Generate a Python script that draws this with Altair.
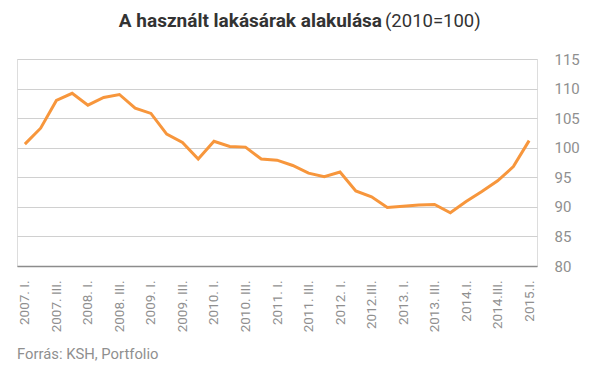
import altair as alt
import pandas as pd

quarters = []
for y in range(2007, 2016):
    for q in range(4):
        if y == 2015 and q > 0:
            break
        quarters.append(f"{y}Q{q+1}")

tick_labels = ["2007. I.", "2007. III.", "2008. I.", "2008. III.", "2009. I.", "2009. III.",
               "2010. I.", "2010. III.", "2011. I.", "2011. III.", "2012. I.", "2012.III.",
               "2013. I.", "2013. III.", "2014.I.", "2014.III.", "2015.I."]

values = [100.6, 103.3, 108.0, 109.2, 107.2, 108.5, 109.0, 106.7, 105.8, 102.3, 100.9,
          98.1, 101.1, 100.2, 100.1, 98.1, 97.9, 97.0, 95.7, 95.1, 95.9, 92.7, 91.7,
          89.9, 90.1, 90.3, 90.4, 89.0, 90.9, 92.6, 94.4, 96.8, 101.2]

label_map = {quarters[i * 2]: tick_labels[i] for i in range(len(tick_labels))}
df = pd.DataFrame({"q": quarters, "v": values})

label_expr = "{" + ",".join(f"'{k}':'{v}'" for k, v in label_map.items()) + "}[datum.value] || ''"

FONT = "Roboto"
GRAY = "#8f8f8f"

line = alt.Chart(df).mark_line(color="#f7963c", strokeWidth=3, strokeJoin="miter").encode(
    x=alt.X("q:N", sort=quarters, title=None,
            scale=alt.Scale(type="point", padding=0.5),
            axis=alt.Axis(labelExpr=label_expr, labelAngle=-90, labelAlign="right",
                          labelBaseline="middle", labelFont=FONT, labelFontSize=13.5,
                          labelColor=GRAY, labelPadding=14, ticks=False,
                          domainColor="#8c8c8c", domainWidth=1.5, grid=False,
                          labelOverlap=False)),
    y=alt.Y("v:Q", title=None,
            scale=alt.Scale(domain=[80, 115], nice=False, zero=False),
            axis=alt.Axis(orient="right", values=[80, 85, 90, 95, 100, 105, 110, 115],
                          labelFont=FONT, labelFontSize=15, labelColor=GRAY,
                          labelPadding=17, ticks=False, domain=False,
                          gridColor="#d0d0d0", gridWidth=1.2, labelAlign="left")),
)

title_bold = alt.Chart(pd.DataFrame({"t": ["A használt lakásárak alakulása"]})).mark_text(
    font=FONT, fontSize=19, fontWeight="bold", color="#333333", align="right", baseline="middle"
).encode(text="t:N", x=alt.value(365), y=alt.value(-38))

title_norm = alt.Chart(pd.DataFrame({"t": ["(2010=100)"]})).mark_text(
    font=FONT, fontSize=18.5, color="#333333", align="left", baseline="middle"
).encode(text="t:N", x=alt.value(368), y=alt.value(-38))

source = alt.Chart(pd.DataFrame({"t": ["Forrás: KSH, Portfolio"]})).mark_text(
    font=FONT, fontSize=14.8, color=GRAY, align="left", baseline="middle"
).encode(text="t:N", x=alt.value(0), y=alt.value(296))

chart = alt.layer(line, title_bold, title_norm, source).properties(
    width=520, height=207,
    autosize=alt.AutoSizeParams(type="none"),
    padding={"left": 9, "top": 51, "right": 62, "bottom": 106},
).configure_view(stroke=None).configure(background="white")

chart.save("out.html", embed_options={"renderer": "svg", "actions": False})
